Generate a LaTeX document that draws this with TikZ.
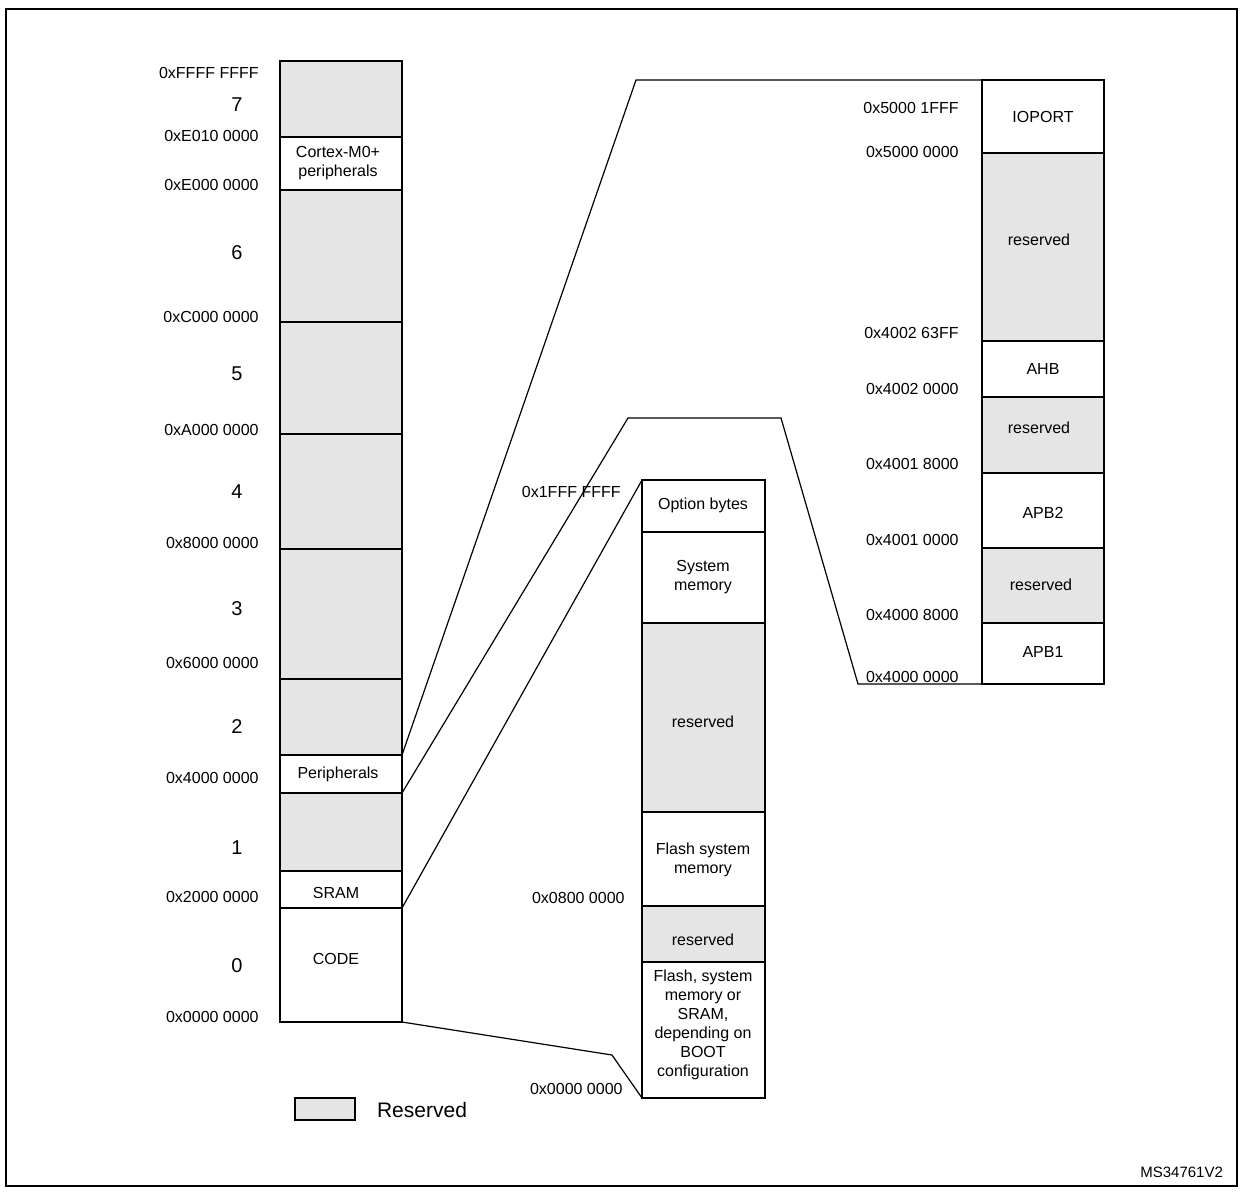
\documentclass[tikz,border=0pt]{standalone}
\usepackage{fontspec}
\setmainfont{Liberation Sans}
\begin{document}
\begin{tikzpicture}[x=0.5pt,y=-0.5pt,
  res/.style={fill=black!10,draw=black,line width=1pt},
  cell/.style={fill=white,draw=black,line width=1pt},
  lbl/.style={font=\fontsize{8}{9.5}\selectfont,align=center,inner sep=1pt},
  addr/.style={font=\fontsize{8}{9.5}\selectfont,anchor=east,inner sep=1pt},
  big/.style={font=\fontsize{10}{12}\selectfont,inner sep=1pt},
  conn/.style={draw=black,line width=0.6pt}]
\useasboundingbox (0,0) rectangle (1243,1191);
\draw[line width=1pt] (6,9) rectangle (1237,1186);
% left column
\foreach \a/\b/\s in {61/137/res,137/190/cell,190/322/res,322/434/res,434/549/res,549/679/res,679/755/res,755/793/cell,793/871/res,871/908/cell,908/1022/cell}
  \path[\s] (280,\a) rectangle (402,\b);
\node[lbl] (cx) at (338,163) {Cortex-M0+\\peripherals};
\node[lbl] (pe) at (338,774) {Peripherals};
\node[lbl] (sr) at (336,893) {SRAM};
\node[lbl] (cd) at (336,959) {CODE};
\foreach \y/\t in {73/0xFFFF FFFF,136/0xE010 0000,185/0xE000 0000,317/0xC000 0000,430/0xA000 0000,543/0x8000 0000,663/0x6000 0000,778/0x4000 0000,897/0x2000 0000,1017/0x0000 0000}
  \node[addr] at (261,\y) {\t};
\foreach \y/\t in {105/7,253/6,374/5,492/4,609/3,727/2,848/1,966/0}
  \node[big] at (237,\y) {\t};
% middle column
\foreach \a/\b/\s in {480/532/cell,532/623/cell,623/812/res,812/906/cell,906/962/res,962/1098/cell}
  \path[\s] (642,\a) rectangle (765,\b);
\node[lbl] at (703,505) {Option bytes};
\node[lbl] at (703,577) {System\\memory};
\node[lbl] at (703,722) {reserved};
\node[lbl] at (703,860) {Flash system\\memory};
\node[lbl] at (703,940) {reserved};
\node[lbl] at (703,1025) {Flash, system\\memory or\\SRAM,\\depending on\\BOOT\\configuration};
\node[addr] at (623,492) {0x1FFF FFFF};
\node[addr] at (627,898) {0x0800 0000};
\node[addr] at (625,1089) {0x0000 0000};
% right column
\foreach \a/\b/\s in {80/153/cell,153/341/res,341/397/cell,397/473/res,473/548/cell,548/623/res,623/684/cell}
  \path[\s] (982,\a) rectangle (1104,\b);
\node[lbl] at (1043,117) {IOPORT};
\node[lbl] at (1039,240) {reserved};
\node[lbl] at (1043,369) {AHB};
\node[lbl] at (1039,428) {reserved};
\node[lbl] at (1043,513) {APB2};
\node[lbl] at (1041,585) {reserved};
\node[lbl] at (1043,652) {APB1};
\foreach \y/\t in {108/0x5000 1FFF,152/0x5000 0000,333/0x4002 63FF,389/0x4002 0000,464/0x4001 8000,540/0x4001 0000,615/0x4000 8000,677/0x4000 0000}
  \node[addr] at (961,\y) {\t};
% connectors
\coordinate (p1) at (402,755); \coordinate (p1a) at (636,80); \coordinate (p1b) at (982,80);
\coordinate (p2) at (402,793); \coordinate (p2a) at (628,418); \coordinate (p2b) at (781,418); \coordinate (p2c) at (858,684); \coordinate (p2d) at (982,684);
\coordinate (s1) at (402,908); \coordinate (s1a) at (642,480);
\coordinate (c1) at (402,1022); \coordinate (c1a) at (612,1055); \coordinate (c1b) at (642,1098);
\draw[conn] (p1) -- (p1a) -- (p1b);
\draw[conn] (p2) -- (p2a) -- (p2b) -- (p2c) -- (p2d);
\draw[conn] (s1) -- (s1a);
\draw[conn] (c1) -- (c1a) -- (c1b);
% legend
\path[res,line width=0.7pt] (295,1098) rectangle (355,1120);
\node[anchor=west,font=\fontsize{10.5}{12}\selectfont] (rl) at (370,1110) {Reserved};
\node[anchor=east,font=\fontsize{7.5}{9}\selectfont] (ms) at (1230,1172) {MS34761V2};
\end{tikzpicture}
\end{document}
